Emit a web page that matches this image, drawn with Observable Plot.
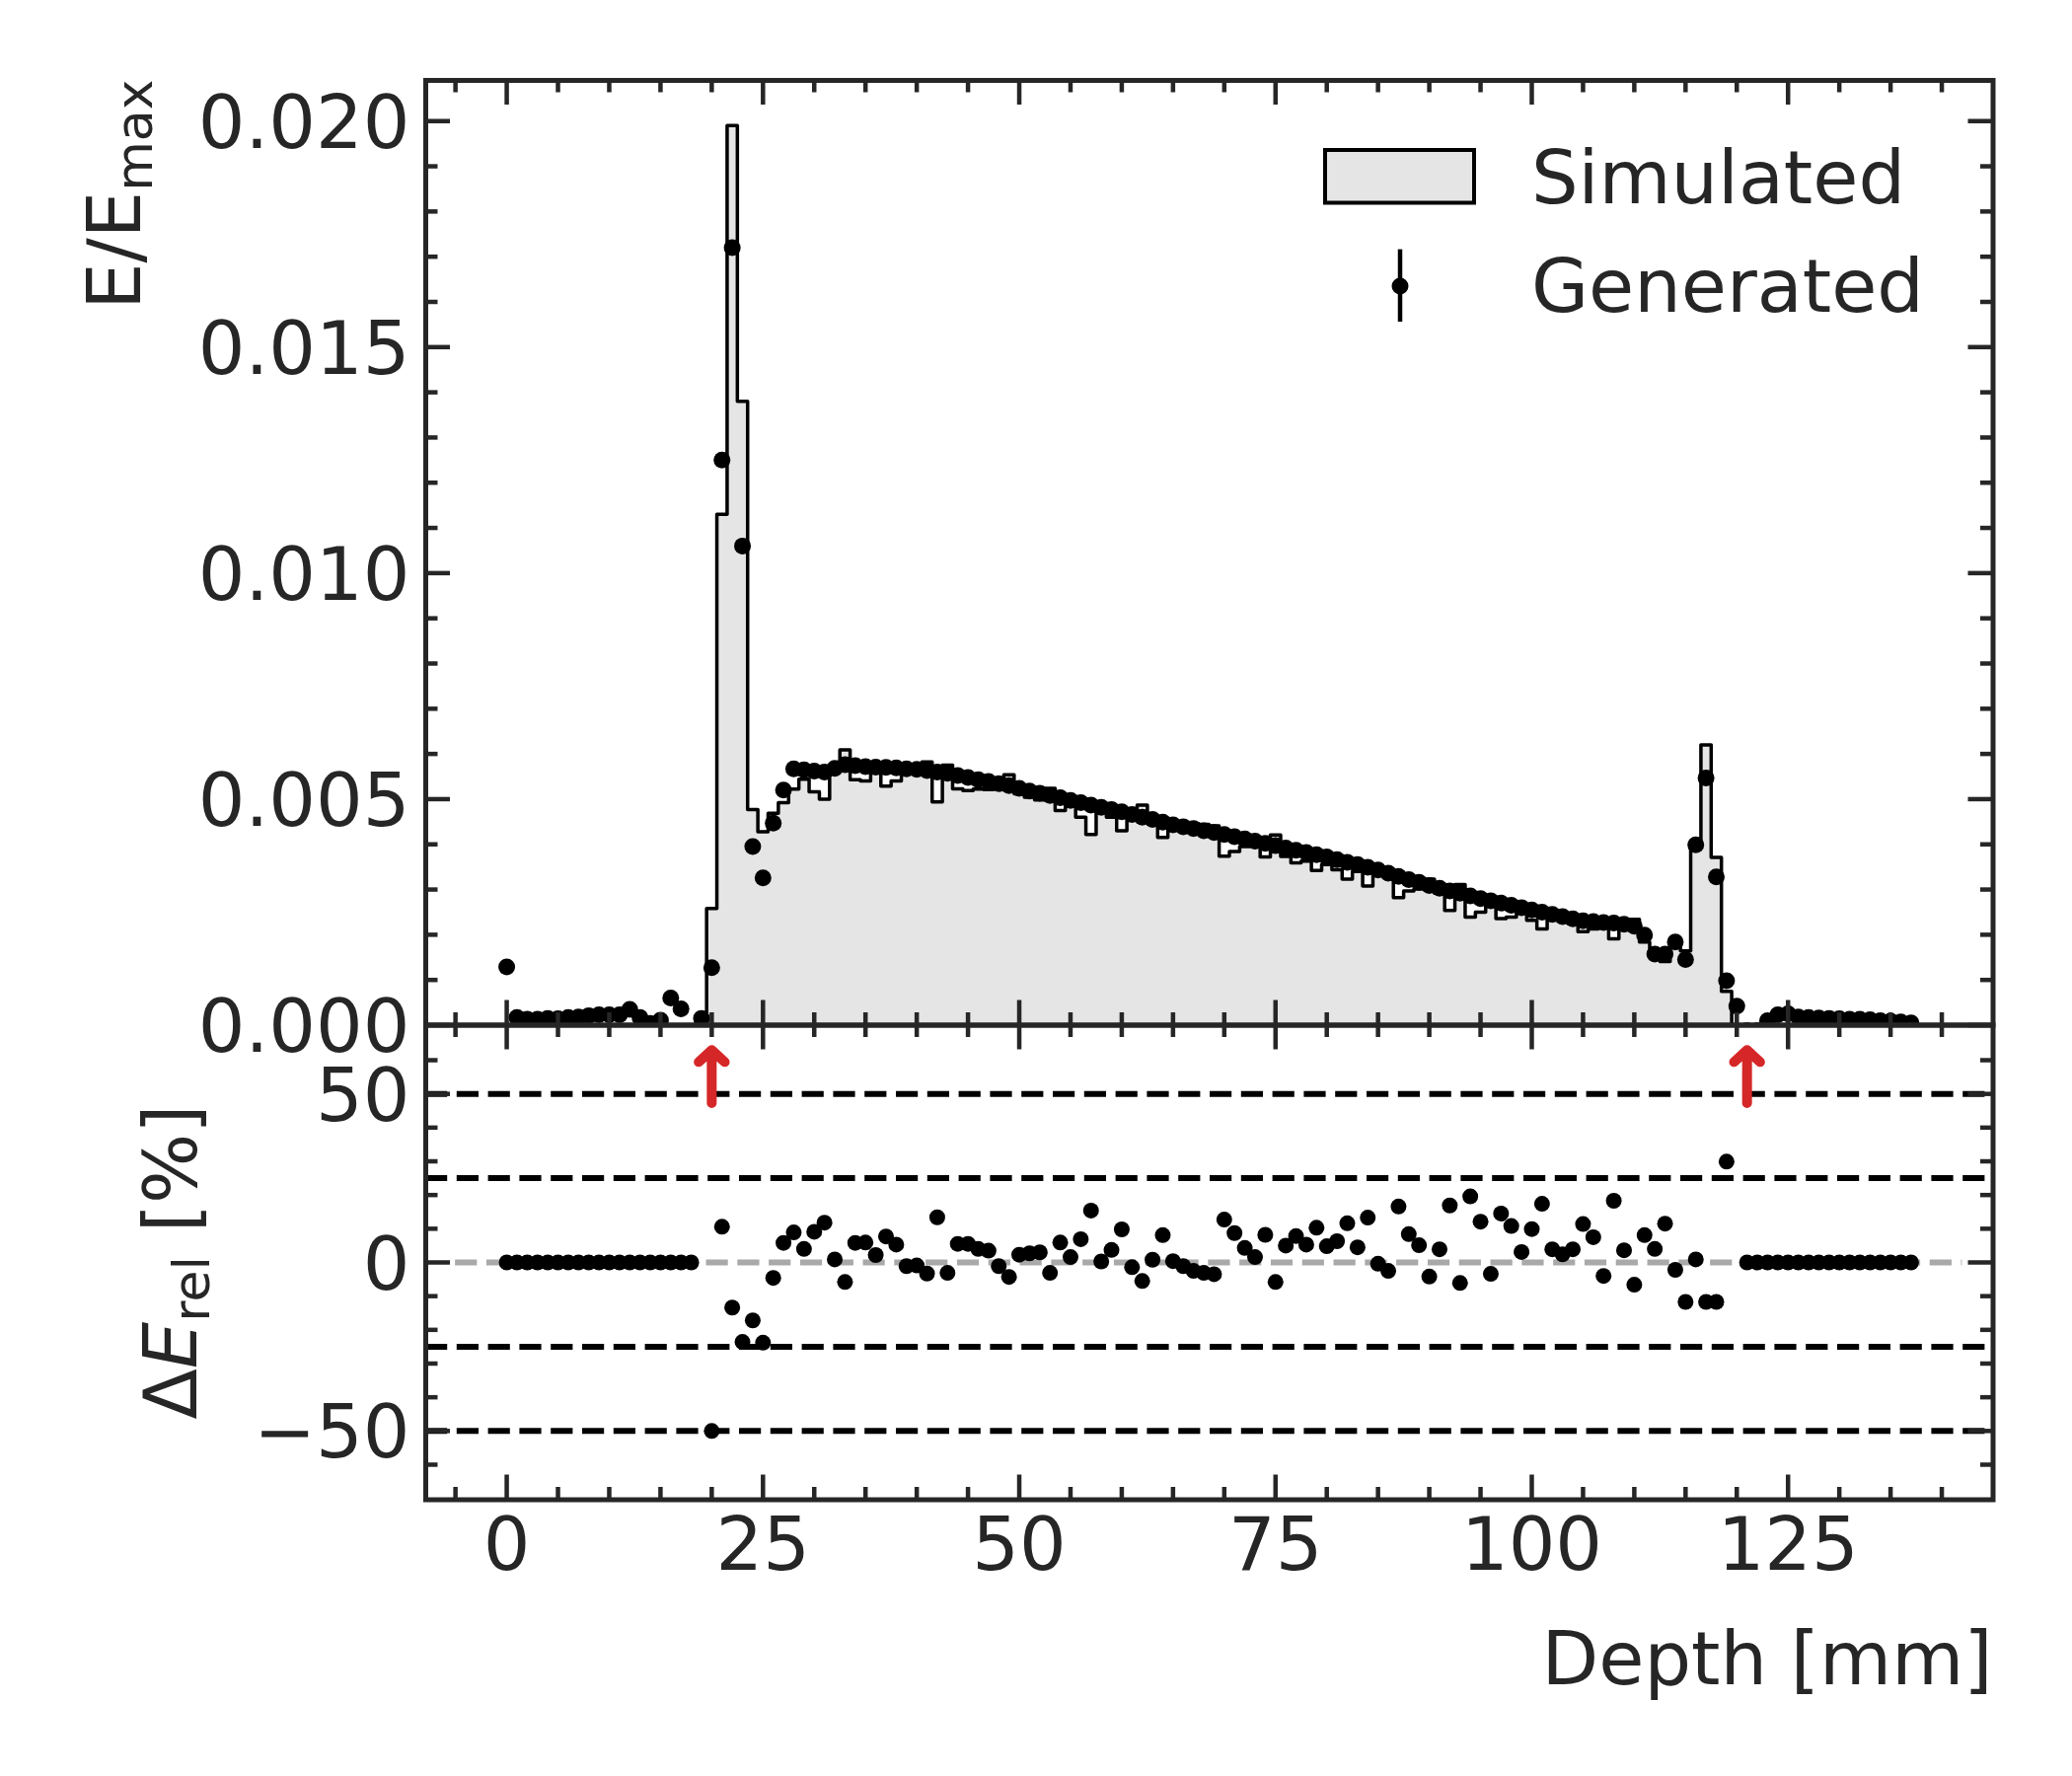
<!DOCTYPE html>
<html>
<head>
<meta charset="utf-8">
<script src="https://cdn.jsdelivr.net/npm/d3@7"></script>
<script src="https://cdn.jsdelivr.net/npm/@observablehq/plot@0.6"></script>
<style>
html, body { margin: 0; padding: 0; background: #ffffff; }
#chart { position: relative; width: 2100px; height: 1800px; font-family: "DejaVu Sans"; }
#chart svg { position: absolute; left: 0; overflow: visible; }
</style>
</head>
<body>
<div id="chart"></div>
<script>
// ---------- data ----------
const depth = [0,1,2,3,4,5,6,7,8,9,10,11,12,13,14,15,16,17,18,19,
  20,21,22,23,24,25,26,27,28,29,30,31,32,33,34,35,36,37,38,39,
  40,41,42,43,44,45,46,47,48,49,50,51,52,53,54,55,56,57,58,59,
  60,61,62,63,64,65,66,67,68,69,70,71,72,73,74,75,76,77,78,79,
  80,81,82,83,84,85,86,87,88,89,90,91,92,93,94,95,96,97,98,99,
  100,101,102,103,104,105,106,107,108,109,110,111,112,113,114,115,116,117,118,119,
  120,121,122,123,124,125,126,127,128,129,130,131,132,133,134,135,136,137];

// Generated (dots), E/Emax
const generated = [
  0.00129,0.00017,0.00013,0.00013,0.00015,0.00014,0.00017,0.00018,0.00021,0.00023,
  0.00023,0.00023,0.00035,0.00017,0.00004,0.00011,0.00060,0.00036,-0.00019,0.00015,
  0.00127,0.0125,0.0172,0.0106,0.00395,0.00326,0.00447,0.00520,0.00567,0.00565,
  0.00562,0.00560,0.00568,0.00576,0.00574,0.00572,0.00571,0.00570,0.00569,0.00567,
  0.00566,0.00563,0.00560,0.00557,0.00552,0.00548,0.00543,0.00539,0.00534,0.00530,
  0.00524,0.00518,0.00513,0.00508,0.00503,0.00497,0.00492,0.00487,0.00482,0.00477,
  0.00472,0.00466,0.00460,0.00455,0.00449,0.00443,0.00439,0.00435,0.00430,0.00426,
  0.00422,0.00417,0.00412,0.00407,0.00402,0.00397,0.00392,0.00387,0.00382,0.00377,
  0.00372,0.00366,0.00360,0.00355,0.00349,0.00343,0.00336,0.00329,0.00322,0.00316,
  0.00309,0.00303,0.00297,0.00292,0.00286,0.00280,0.00275,0.00270,0.00265,0.00260,
  0.00255,0.00250,0.00245,0.00240,0.00235,0.00231,0.00229,0.00227,0.00226,0.00223,
  0.00219,0.00199,0.00157,0.00157,0.00184,0.00145,0.00399,0.00547,0.00328,0.00098,
  0.00042,-0.00012,-0.00012,0.00010,0.00023,0.00025,0.00018,0.00017,0.00016,0.00015,
  0.00014,0.00013,0.00013,0.00012,0.00010,0.00009,0.00007,0.00005];

// Simulated (step histogram), E/Emax
const simulated = [
  0,0,0,0,0,0,0,0,0,0,0,0,0,0,0,0,0,0,0,0,
  0.00258,0.0113,0.0199,0.0138,0.00477,0.00428,0.00469,0.00492,0.00522,0.00544,
  0.00516,0.00500,0.00564,0.00609,0.00543,0.00540,0.00559,0.00529,0.00540,0.00573,
  0.00571,0.00582,0.00494,0.00575,0.00523,0.00519,0.00522,0.00521,0.00540,0.00554,
  0.00512,0.00504,0.00498,0.00524,0.00475,0.00489,0.00460,0.00422,0.00481,0.00460,
  0.00430,0.00473,0.00487,0.00451,0.00415,0.00441,0.00444,0.00446,0.00444,0.00441,
  0.00374,0.00384,0.00395,0.00401,0.00372,0.00421,0.00373,0.00359,0.00363,0.00342,
  0.00355,0.00344,0.00323,0.00340,0.00308,0.00344,0.00345,0.00282,0.00297,0.00301,
  0.00323,0.00292,0.00254,0.00311,0.00239,0.00250,0.00285,0.00236,0.00239,0.00252,
  0.00232,0.00213,0.00236,0.00234,0.00226,0.00207,0.00213,0.00236,0.00191,0.00215,
  0.00234,0.00184,0.00151,0.00141,0.00188,0.00164,0.00395,0.00620,0.00371,0.00075,
  0,0,0,0,0,0,0,0,0,0,0,0,0,0,0,0,0,0];

// Relative difference, %
const residual = [
  0,0,0,0,0,0,0,0,0,0,0,0,0,0,0,0,0,0,0,null,
  -50.0,10.6,-13.4,-23.6,-17.2,-23.8,-4.6,5.8,8.9,4.0,
  9.1,11.8,0.9,-5.8,5.8,5.9,2.2,7.7,5.3,-1.1,
  -0.9,-3.3,13.4,-3.1,5.5,5.5,4.0,3.5,-1.1,-4.3,
  2.3,2.7,3.0,-3.1,5.9,1.6,6.9,15.4,0.3,3.7,
  9.8,-1.4,-5.5,0.8,8.1,0.4,-1.1,-2.5,-3.1,-3.5,
  12.7,8.7,4.3,1.6,8.2,-5.8,5.0,7.8,5.3,10.3,
  4.8,6.3,11.6,4.5,13.3,-0.4,-2.5,16.6,8.4,5.1,
  -4.2,3.9,16.9,-6.1,19.6,12.1,-3.4,14.5,10.8,3.1,
  9.9,17.4,3.9,2.4,3.9,11.4,7.5,-4.0,18.3,3.6,
  -6.6,8.1,4.0,11.5,-2.2,-11.7,0.9,-11.7,-11.7,29.9,
  null,0,0,0,0,0,0,0,0,0,0,0,0,0,0,0,0,0];

// red arrows (depth, from %, to %)
const arrowDepth = [20, 121];
const arrowFrom = [47.3, 47.3];
const arrowTo = [63, 63];

// reference lines in the ratio panel
const bandLines = [-50, -25, 25, 50];
const zeroLine = [0];

// ticks
const xMajor = [0, 25, 50, 75, 100, 125];
const xMinor = [-5,5,10,15,20,30,35,40,45,55,60,65,70,80,85,90,95,105,110,115,120,130,135,140];
const yTopMajor = [0, 0.005, 0.010, 0.015, 0.020];
const yTopMinor = [0.001,0.002,0.003,0.004,0.006,0.007,0.008,0.009,0.011,0.012,0.013,0.014,0.016,0.017,0.018,0.019];
const yBotMajor = [-50, 0, 50];
const yBotMinor = [-60,-40,-30,-20,-10,10,20,30,40,60];

// legend entries
const legendLabels = ["Simulated", "Generated"];

// ---------- layout / style ----------
const INK = "#262626";
const W = 2100;
const frameL = 431, frameR = 2019.5, topT = 81, topB = 1038.5, botB = 1519.5;
const topH = 1100, botOff = 1000, botH = 800;
const xDomain = [-7.9, 145.0];
const FS = 75;

const rows = depth.map((d, i) => ({depth: d, gen: generated[i], sim: simulated[i], res: residual[i]}));
const steps = rows.map(r => ({x: r.depth - 0.5, y: r.sim}))
  .concat([{x: depth[depth.length - 1] + 0.5, y: 0}]);

function edgeTicks(xs, ys, len, fh, fw) {
  const s = {stroke: INK, strokeWidth: 4.5};
  return [
    Plot.ruleX(xs, {x: d => d, insetTop: fh - len, ...s}),
    Plot.ruleX(xs, {x: d => d, insetBottom: fh - len, ...s}),
    Plot.ruleY(ys, {y: d => d, insetRight: fw - len, ...s}),
    Plot.ruleY(ys, {y: d => d, insetLeft: fw - len, ...s})
  ];
}

const svgStyle = {fontFamily: "DejaVu Sans", color: INK, background: "transparent", overflow: "visible"};
const fwPix = frameR - frameL;

// ---------- top panel ----------
const topFH = topB - topT;
const topPlot = Plot.plot({
  width: W, height: topH,
  marginLeft: frameL, marginRight: W - frameR, marginTop: topT, marginBottom: topH - topB,
  x: {domain: xDomain, axis: null},
  y: {domain: [0, 0.0209]},
  style: svgStyle,
  marks: [
    Plot.areaY(steps, {x: "x", y1: 0, y2: "y", curve: "step-after", fill: "#e5e5e5"}),
    Plot.line(steps, {x: "x", y: "y", curve: "step-after", stroke: "#000", strokeWidth: 3.5}),
    Plot.dot(rows, {x: "depth", y: "gen", r: 8.5, fill: "#000", clip: true}),
    Plot.frame({stroke: INK, strokeWidth: 5}),
    ...edgeTicks(xMajor, yTopMajor, 25, topFH, fwPix),
    ...edgeTicks(xMinor, yTopMinor, 12.5, topFH, fwPix),
    Plot.axisY({ticks: yTopMajor, tickFormat: d3.format(".3f"), tickSize: 0, tickPadding: 16,
      fontSize: FS, label: null, dy: 3, fill: INK})
  ]
});

// ---------- bottom panel ----------
const botFH = botB - topB;
const botPlot = Plot.plot({
  width: W, height: botH,
  marginLeft: frameL, marginRight: W - frameR, marginTop: topB - botOff, marginBottom: botH - (botB - botOff),
  x: {domain: xDomain},
  y: {domain: [-70.4, 70.4]},
  style: svgStyle,
  marks: [
    Plot.ruleY(bandLines, {y: d => d, stroke: "#000", strokeWidth: 6, strokeDasharray: "22.2 9.6"}),
    Plot.ruleY(zeroLine, {y: d => d, x1: -5, x2: 142, stroke: "#a9a9a9", strokeWidth: 6, strokeDasharray: "22.2 9.6"}),
    Plot.dot(rows, {x: "depth", y: "res", r: 8, fill: "#000"}),
    Plot.arrow(arrowDepth, {x1: d => d, x2: d => d, y1: (d, i) => arrowFrom[i], y2: (d, i) => arrowTo[i],
      stroke: "#d62728", strokeWidth: 10, headAngle: 95}),
    Plot.frame({stroke: INK, strokeWidth: 5}),
    ...edgeTicks(xMajor, yBotMajor, 25, botFH, fwPix),
    ...edgeTicks(xMinor, yBotMinor, 12.5, botFH, fwPix),
    Plot.axisX({ticks: xMajor, tickFormat: d => String(d), tickSize: 0, tickPadding: 17.5,
      fontSize: FS, label: null, fill: INK}),
    Plot.axisY({ticks: yBotMajor, tickFormat: d => d < 0 ? "\u2212" + (-d) : String(d), tickSize: 0,
      tickPadding: 16, fontSize: FS, label: null, dy: 3, fill: INK})
  ]
});

topPlot.style.top = "0px";
botPlot.style.top = botOff + "px";
const chart = document.getElementById("chart");
chart.appendChild(topPlot);
chart.appendChild(botPlot);

// ---------- labels & legend ----------
const ts = d3.select(topPlot);
const yl = ts.append("text")
  .attr("transform", "translate(141.7,80.5) rotate(-90)")
  .attr("text-anchor", "end").attr("fill", INK)
  .attr("font-family", "DejaVu Sans").attr("font-size", FS);
yl.append("tspan").text("E/E");
yl.append("tspan").attr("dy", 12.6).attr("font-size", 52).text("max");

const lg = ts.append("g").attr("font-family", "DejaVu Sans").attr("font-size", FS)
  .attr("fill", INK).attr("text-anchor", "start");
lg.append("rect").attr("x", 1343).attr("y", 152).attr("width", 151).attr("height", 53.5)
  .attr("fill", "#e5e5e5").attr("stroke", "#000").attr("stroke-width", 4);
lg.append("text").attr("x", 1552).attr("y", 205.5).attr("text-anchor", "start").text(legendLabels[0]);
lg.append("line").attr("x1", 1419).attr("x2", 1419).attr("y1", 252.6).attr("y2", 326)
  .attr("stroke", "#000").attr("stroke-width", 4.5);
lg.append("circle").attr("cx", 1419).attr("cy", 290).attr("r", 8.5).attr("fill", "#000");
lg.append("text").attr("x", 1552).attr("y", 315.7).attr("text-anchor", "start").text(legendLabels[1]);

const bs = d3.select(botPlot);
const rl = bs.append("text")
  .attr("transform", `translate(199.3,${(topB + botB) / 2 - botOff}) rotate(-90)`)
  .attr("text-anchor", "middle").attr("fill", INK)
  .attr("font-family", "DejaVu Sans").attr("font-size", FS);
rl.append("tspan").text("\u0394");
rl.append("tspan").attr("font-style", "italic").text("E");
rl.append("tspan").attr("dy", 12.4).attr("font-size", 52).text("rel");
rl.append("tspan").attr("dy", -12.4).attr("font-size", FS).text(" [%]");

bs.append("text").attr("x", frameR).attr("y", 1706.6 - botOff)
  .attr("text-anchor", "end").attr("fill", INK)
  .attr("font-family", "DejaVu Sans").attr("font-size", FS)
  .text("Depth [mm]");
</script>
</body>
</html>
